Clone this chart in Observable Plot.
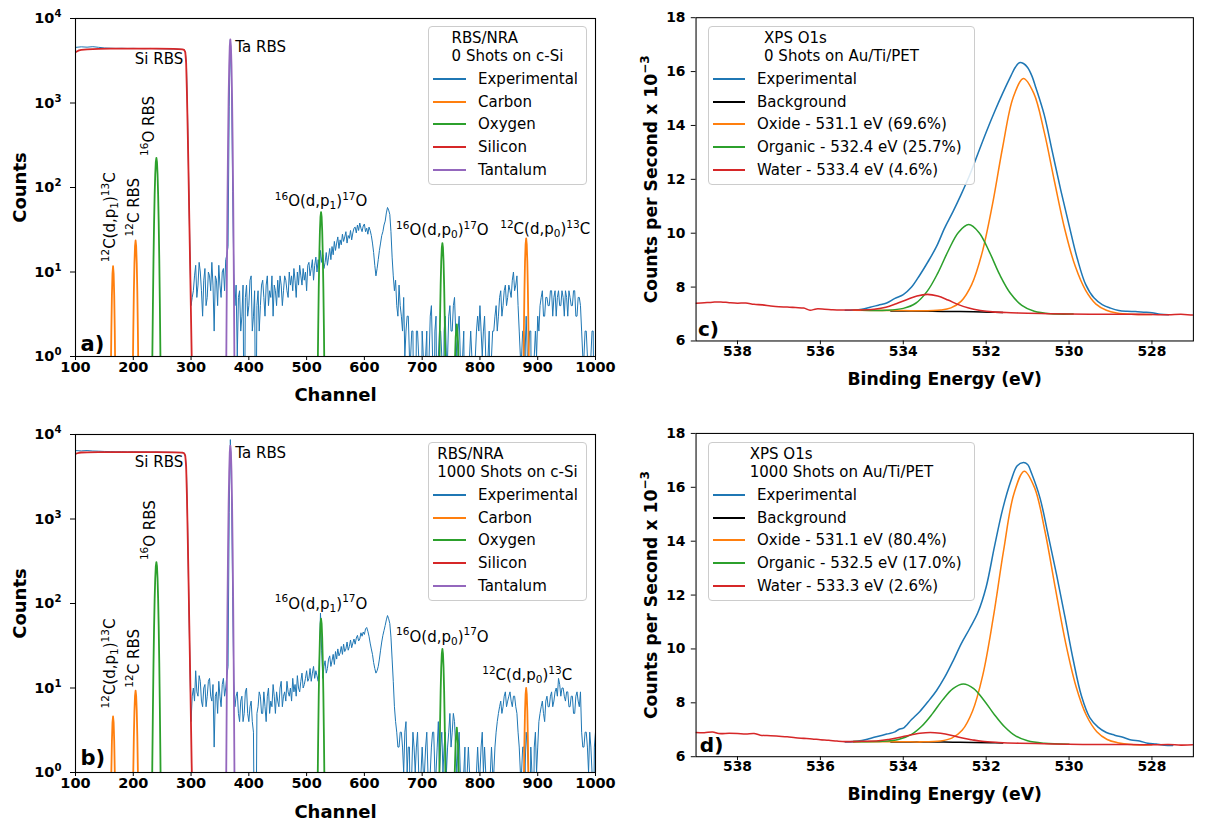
<!DOCTYPE html>
<html><head><meta charset="utf-8">
<script src="https://cdn.jsdelivr.net/npm/d3@7"></script>
<script src="https://cdn.jsdelivr.net/npm/@observablehq/plot@0.6"></script>
<style>
html,body{margin:0;padding:0;overflow:hidden;background:#fff}
#root{position:relative;width:1213px;height:822px;overflow:hidden;background:#fff;font-family:"DejaVu Sans"}
.panel{position:absolute}
.panel svg{overflow:visible}
.lg{position:absolute;box-sizing:border-box;border:1px solid #cccccc;border-radius:4px;background:rgba(255,255,255,0.85);font:15px "DejaVu Sans";color:#000}
</style></head><body><div id="root"></div>
<script>
// ---------------- tick labels ----------------
const channelTicks = [100,200,300,400,500,600,700,800,900,1000];
const countTicks = [1,10,100,1000,10000];
const countTickLabels = ["10⁰","10¹","10²","10³","10⁴"];
const energyTicks = [538,536,534,532,530,528];
const cpsTicks = [6,8,10,12,14,16,18];

// ---------------- RBS/NRA data (channel, counts) ----------------
// experimental counts after the Si edge are listed every 2 channels from channel 304
const noiseStart = 304, noiseStep = 2;
const expA_si = [[100,4550],[110,4620],[120,4580],[130,4640],[140,4560],[150,4480],[160,4450],[170,4430],[180,4440],[190,4420],[200,4430],[210,4410],[220,4400],[230,4420],[240,4390],[250,4380],[260,4370],[270,4350],[280,4330],[288,4280],[290,4050],[292,2900],[294,700],[296,110],[298,18],[300,4],[302,5]];
const expA_counts = [
 6,9,12,5,7,13,10,6,3,8,11,4,5,10,9,6,13,7,2,9,
 8,4,12,7,5,10,11,6,14,16,20,900,5600,2000,90,10,4,7,1,5,
 6,2,3,7,0,5,7,3,4,8,9,2,3,6,0,4,6,2,4,7,
 8,5,3,7,9,4,6,5,9,3,7,6,4,8,5,9,7,4,6,9,
 8,6,5,10,7,9,6,11,8,5,10,7,12,9,7,11,8,10,6,12,
 13,9,11,14,8,12,15,10,14,11,18,13,16,11,13,17,12,15,19,14,
 20,16,23,18,22,26,19,24,21,28,23,26,30,22,27,25,31,24,29,33,
 34,29,36,31,38,33,30,35,37,30,33,28,34,31,27,22,17,12,9,11,
 14,18,22,27,30,36,40,50,58,54,48,30,15,9,6,8,4,3,7,4,
 3,2,5,1,2,3,3,1,1,2,2,0,0,2,2,1,1,0,2,1,
 0,1,2,0,1,3,4,1,0,2,3,0,1,2,2,1,0,2,3,1,
 1,3,4,2,2,4,5,2,1,2,3,1,0,1,2,0,1,0,0,1,
 2,1,0,0,1,2,3,2,4,2,1,2,3,1,0,1,2,0,1,2,
 2,3,4,2,3,5,6,3,4,6,7,4,5,7,6,5,8,10,6,7,
 9,4,2,1,1,2,2,1,3,1,1,2,2,0,0,1,2,1,3,2,
 4,5,6,3,3,5,5,4,4,6,6,3,5,6,3,5,6,4,4,6,
 5,3,6,5,3,6,5,4,4,6,6,3,3,5,5,4,2,1,1,2,
 2,1,0,1,1,2,2,0,1];
const carbonA = [[150,0],[160,0.08],[161,0.48],[162,1.93],[163,5.3],[164,9.6],[165,11.7],[166,9.6],[167,5.3],[168,1.93],[169,0.48],[170,0.08],[180,0],
 [197,0],[198,0.07],[199,0.48],[200,1.94],[201,5.8],[202,12.6],[203,20.2],[204,23.6],[205,20.2],[206,12.6],[207,5.8],[208,1.94],[209,0.48],[210,0.07],[220,0],
 [860,0],[874,0.08],[875,0.46],[876,1.95],[877,5.95],[878,13.2],[879,21.3],[880,25],[881,21.3],[882,13.2],[883,5.95],[884,1.95],[885,0.46],[886,0.08],[900,0]];
const oxygenA = [[225,0],[232,0.19],[233,1.0],[234,4.2],[235,14.2],[236,38.4],[237,83],[238,144],[239,201],[240,224],[241,201],[242,144],[243,83],[244,38.4],[245,14.2],[246,4.2],[247,1.0],[248,0.19],[255,0],
 [510,0],[518,0.07],[519,0.47],[520,2.0],[521,6.4],[522,15.8],[523,30.3],[524,44.8],[525,51],[526,44.8],[527,30.3],[528,15.8],[529,6.4],[530,2.0],[531,0.47],[532,0.07],[540,0],
 [720,0],[729,0.24],[730,0.96],[731,3.0],[732,7.1],[733,13.4],[734,19.4],[735,22],[736,19.4],[737,13.4],[738,7.1],[739,3.0],[740,0.96],[741,0.24],[745,0.05],
 [754,0.2],[756,0.6],[758,1.7],[760,2.4],[762,1.5],[764,0.5],[766,0.1],[780,0]];
const siliconA = [[100,3990],[103,4100],[106,4200],[110,4260],[120,4320],[140,4370],[160,4390],[200,4400],[240,4390],[270,4360],[285,4320],[288,4250],[290,4000],[291.5,3000],[293,1200],[295,250],[297,42],[299,7],[301,1.1],[302,0.5],[304,0.1],[320,0]];
const tantalumA = [[350,0],[360,0.09],[361,0.98],[362,9.5],[363,67],[364,332],[365,1145],[366,2770],[367,4730],[368,5640],[369,4730],[370,2770],[371,1145],[372,332],[373,67],[374,9.5],[375,0.98],[376,0.09],[385,0]];

const expB_si = [[100,6450],[110,6400],[120,6460],[130,6380],[140,6350],[150,6300],[160,6280],[170,6250],[180,6260],[190,6230],[200,6250],[210,6220],[220,6230],[230,6200],[240,6210],[250,6180],[260,6170],[270,6150],[280,6130],[288,6050],[290,5700],[292,3800],[294,900],[296,120],[298,20],[300,4],[302,8]];
const expB_counts = [
 10,7,16,9,8,14,12,7,6,10,11,6,8,12,13,8,7,11,2,8,
 9,5,12,8,6,11,13,8,10,14,18,1200,8700,2500,120,12,6,8,9,5,
 4,7,8,4,5,9,10,5,4,6,7,4,3,0,0,5,6,9,8,5,
 5,9,6,4,8,10,5,7,6,11,8,5,9,7,6,10,12,6,8,9,
 7,12,9,8,10,7,13,9,11,8,14,10,9,12,15,10,11,13,16,12,
 13,17,12,15,18,13,16,14,12,19,77,28,13,18,21,15,17,22,24,18,
 21,25,19,27,22,29,24,26,31,25,33,27,29,35,28,31,37,30,34,38,
 33,39,42,36,38,45,41,46,43,50,52,47,41,34,29,25,20,17,15,16,
 18,22,28,35,42,48,55,64,72,66,58,40,22,12,6,4,3,2,2,3,
 3,2,1,3,4,1,2,2,0,1,3,2,1,2,3,1,0,1,2,1,
 1,2,3,1,0,1,2,3,3,1,1,2,4,1,2,3,1,2,3,1,
 2,3,5,2,3,5,4,2,1,2,3,1,0,0,1,2,0,1,2,1,
 0,1,1,0,0,1,2,1,1,2,3,1,2,1,1,0,0,1,2,1,
 1,2,3,4,5,6,7,5,6,8,9,6,7,8,9,7,6,8,8,6,
 5,3,2,1,1,2,2,1,3,2,1,0,2,1,0,2,3,1,2,4,
 5,6,7,5,4,7,8,6,6,8,9,6,7,9,10,8,13,11,8,10,
 10,8,7,9,9,6,6,8,8,5,5,8,9,7,6,9,3,2,2,3,
 3,2,1,3,2,1,0,2,3];
const carbonB = [[150,0],[160,0.07],[161,0.31],[162,1.0],[163,2.34],[164,3.9],[165,4.6],[166,3.9],[167,2.34],[168,1.0],[169,0.31],[170,0.07],[180,0],
 [197,0],[198,0.06],[199,0.29],[200,1.02],[201,2.68],[202,5.35],[203,8.1],[204,9.3],[205,8.1],[206,5.35],[207,2.68],[208,1.02],[209,0.29],[210,0.06],[220,0],
 [860,0],[874,0.03],[875,0.19],[876,0.78],[877,2.4],[878,5.3],[879,8.5],[880,10],[881,8.5],[882,5.3],[883,2.4],[884,0.78],[885,0.19],[886,0.03],[900,0]];
const oxygenB = [[225,0],[232,0.27],[233,1.4],[234,5.8],[235,19.6],[236,52.8],[237,115],[238,199],[239,277],[240,309],[241,277],[242,199],[243,115],[244,52.8],[245,19.6],[246,5.8],[247,1.4],[248,0.27],[255,0],
 [510,0],[518,0.1],[519,0.61],[520,2.55],[521,8.25],[522,20.5],[523,39.2],[524,58],[525,66],[526,58],[527,39.2],[528,20.5],[529,8.25],[530,2.55],[531,0.61],[532,0.1],[540,0],
 [720,0],[729,0.32],[730,1.27],[731,3.9],[732,9.4],[733,17.6],[734,25.6],[735,29],[736,25.6],[737,17.6],[738,9.4],[739,3.9],[740,1.27],[741,0.32],[745,0.05],
 [754,0.25],[756,0.8],[758,2.4],[760,3.4],[762,2.1],[764,0.7],[766,0.15],[780,0]];
const siliconB = [[100,5900],[103,6000],[106,6080],[110,6120],[120,6160],[140,6190],[160,6200],[200,6200],[240,6180],[270,6150],[285,6100],[288,6000],[290,5600],[291.5,4200],[293,1700],[295,330],[297,55],[299,9],[301,1.3],[302,0.6],[304,0.1],[320,0]];
const tantalumB = [[350,0],[360,0.09],[361,1.3],[362,12.6],[363,88],[364,435],[365,1500],[366,3630],[367,6200],[368,7400],[369,6200],[370,3630],[371,1500],[372,435],[373,88],[374,12.6],[375,1.3],[376,0.09],[385,0]];

// peak annotations: text and the peak it names (channel, counts)
const annotA = [
 {t:"Si RBS", ch:290, c:4400},
 {t:"Ta RBS", ch:368, c:5640},
 {t:"¹²C(d,p₁)¹³C", ch:165, c:11.7},
 {t:"¹²C RBS", ch:204, c:23.6},
 {t:"¹⁶O RBS", ch:240, c:224},
 {t:"¹⁶O(d,p₁)¹⁷O", ch:525, c:51},
 {t:"¹⁶O(d,p₀)¹⁷O", ch:735, c:22},
 {t:"¹²C(d,p₀)¹³C", ch:880, c:25}];
const annotB = [
 {t:"Si RBS", ch:290, c:6100},
 {t:"Ta RBS", ch:368, c:7400},
 {t:"¹²C(d,p₁)¹³C", ch:165, c:4.6},
 {t:"¹²C RBS", ch:204, c:9.3},
 {t:"¹⁶O RBS", ch:240, c:309},
 {t:"¹⁶O(d,p₁)¹⁷O", ch:525, c:66},
 {t:"¹⁶O(d,p₀)¹⁷O", ch:735, c:29},
 {t:"¹²C(d,p₀)¹³C", ch:880, c:10}];

// ---------------- XPS O1s data (binding energy eV, counts/s x 1e-3) ----------------
const expC = [[535.4,7.14],[535.2,7.15],[535.0,7.18],[534.8,7.25],[534.6,7.33],[534.4,7.41],[534.2,7.58],[534.0,7.72],[533.8,8.0],[533.6,8.45],[533.4,8.95],[533.2,9.5],[533.0,10.2],[532.8,10.8],[532.6,11.45],[532.4,12.15],[532.2,12.95],[532.0,13.75],[531.8,14.5],[531.6,15.2],[531.4,15.85],[531.3,16.15],[531.2,16.33],[531.1,16.3],[531.0,16.15],[530.9,15.85],[530.8,15.4],[530.6,14.4],[530.4,13.0],[530.2,11.6],[530.0,10.3],[529.8,9.05],[529.6,8.1],[529.4,7.6],[529.2,7.35],[529.0,7.22],[528.8,7.13],[528.6,7.1],[528.4,7.09],[528.2,7.07],[528.0,7.05],[527.8,6.99],[527.6,6.97]];
const bgC = [[534.3,7.115],[533.8,7.11],[533.3,7.1],[532.8,7.095],[532.3,7.085],[531.9,7.07],[531.6,7.06]];
const oxideC = [[535.2,7.14],[534.0,7.13],[533.6,7.12],[533.1,7.15],[532.85,7.23],[532.6,7.48],[532.35,8.09],[532.1,9.26],[531.85,11.05],[531.6,13.21],[531.35,15.03],[531.1,15.74],[530.85,15.19],[530.6,13.76],[530.35,11.91],[530.1,10.13],[529.85,8.77],[529.6,7.88],[529.35,7.37],[529.1,7.14],[528.85,7.04],[528.5,6.99],[528.0,6.98]];
const organicC = [[535.0,7.14],[534.4,7.14],[534.0,7.21],[533.7,7.40],[533.42,7.85],[533.17,8.51],[532.92,9.33],[532.67,10.03],[532.42,10.32],[532.17,10.02],[531.92,9.30],[531.67,8.45],[531.42,7.78],[531.14,7.32],[530.84,7.10],[530.44,7.01],[529.9,7.0]];
const waterC = [[539.0,7.40],[538.8,7.42],[538.6,7.44],[538.4,7.45],[538.2,7.42],[538.0,7.40],[537.8,7.41],[537.6,7.36],[537.4,7.34],[537.2,7.30],[537.0,7.27],[536.8,7.26],[536.6,7.24],[536.4,7.22],[536.25,7.14],[536.1,7.19],[535.9,7.18],[535.7,7.16],[535.5,7.15],[535.2,7.15],[535.0,7.15],[534.7,7.18],[534.42,7.25],[534.17,7.38],[533.92,7.53],[533.67,7.67],[533.42,7.73],[533.17,7.67],[532.92,7.52],[532.67,7.35],[532.42,7.22],[532.14,7.135],[531.84,7.08],[531.4,7.05],[531.0,7.03],[530.5,7.01],[530.0,7.0],[529.5,6.99],[529.0,6.99],[528.5,6.99],[528.0,6.98],[527.6,6.97],[527.3,6.99],[527.0,6.96],[526.8,6.97]];

const expD = [[535.4,6.55],[535.2,6.56],[535.0,6.6],[534.8,6.68],[534.6,6.76],[534.4,6.84],[534.2,6.92],[534.1,7.02],[534.0,7.06],[533.8,7.38],[533.6,7.68],[533.4,8.05],[533.2,8.45],[533.0,8.95],[532.8,9.55],[532.6,10.2],[532.4,10.75],[532.2,11.35],[532.0,12.3],[531.8,13.8],[531.6,15.2],[531.4,16.25],[531.25,16.8],[531.1,16.92],[531.0,16.85],[530.9,16.5],[530.7,15.6],[530.5,14.2],[530.3,12.75],[530.1,11.2],[529.9,9.6],[529.7,8.25],[529.5,7.45],[529.3,7.1],[529.1,6.9],[528.9,6.8],[528.7,6.72],[528.5,6.62],[528.3,6.58],[528.1,6.5],[527.9,6.47],[527.7,6.43],[527.5,6.42]];
const bgD = [[534.3,6.55],[533.8,6.548],[533.3,6.545],[532.8,6.54],[532.3,6.53],[531.9,6.52],[531.6,6.51]];
const oxideD = [[535.2,6.56],[534.0,6.555],[533.6,6.55],[533.1,6.585],[532.83,6.69],[532.58,6.98],[532.33,7.69],[532.08,9.04],[531.83,11.15],[531.58,13.65],[531.33,15.76],[531.08,16.6],[530.83,15.98],[530.58,14.36],[530.33,12.25],[530.08,10.21],[529.83,8.60],[529.58,7.53],[529.33,6.93],[529.08,6.64],[528.83,6.52],[528.5,6.45],[528.0,6.44]];
const organicD = [[535.2,6.56],[534.5,6.57],[534.1,6.65],[533.8,6.83],[533.55,7.14],[533.3,7.59],[533.05,8.11],[532.8,8.53],[532.55,8.70],[532.3,8.53],[532.05,8.09],[531.8,7.56],[531.55,7.10],[531.3,6.78],[531.0,6.59],[530.6,6.50],[530.0,6.46]];
const waterD = [[539.0,6.90],[538.8,6.89],[538.6,6.92],[538.45,6.86],[538.2,6.87],[538.0,6.86],[537.8,6.84],[537.6,6.86],[537.45,6.80],[537.2,6.78],[537.0,6.76],[536.8,6.74],[536.6,6.70],[536.4,6.68],[536.2,6.66],[536.0,6.63],[535.8,6.61],[535.6,6.58],[535.4,6.56],[535.0,6.57],[534.6,6.59],[534.35,6.64],[534.1,6.71],[533.85,6.80],[533.6,6.87],[533.35,6.90],[533.1,6.87],[532.85,6.80],[532.6,6.70],[532.35,6.63],[532.1,6.57],[531.7,6.53],[531.2,6.50],[530.6,6.48],[530.0,6.46],[529.5,6.45],[529.0,6.45],[528.5,6.45],[528.0,6.44],[527.6,6.45],[527.3,6.43],[527.0,6.44],[526.8,6.43]];

// ---------------- legend texts ----------------
const rbsEntries = ["Experimental","Carbon","Oxygen","Silicon","Tantalum"];
const xpsEntriesC = ["Experimental","Background","Oxide - 531.1 eV (69.6%)","Organic - 532.4 eV (25.7%)","Water - 533.4 eV (4.6%)"];
const xpsEntriesD = ["Experimental","Background","Oxide - 531.1 eV (80.4%)","Organic - 532.5 eV (17.0%)","Water - 533.3 eV (2.6%)"];
const titleA = ["RBS/NRA","0 Shots on c-Si"];
const titleB = ["RBS/NRA","1000 Shots on c-Si"];
const titleC = ["XPS O1s","0 Shots on Au/Ti/PET"];
const titleD = ["XPS O1s","1000 Shots on Au/Ti/PET"];

// ---------------- styling ----------------
const COL = {blue:"#1f77b4", orange:"#ff7f0e", green:"#2ca02c", red:"#d62728", purple:"#9467bd", black:"#000000"};
const rbsColors = [COL.blue, COL.orange, COL.green, COL.red, COL.purple];
const xpsColors = [COL.blue, COL.black, COL.orange, COL.green, COL.red];
const FLOOR = 0.05;
const yc = d => (d[1] > 0 ? d[1] : FLOOR);
const tickLabelMap = new Map(countTicks.map((t, i) => [t, countTickLabels[i]]));

function rbsSeries(si, counts) {
  return si.concat(counts.map((c, i) => [noiseStart + noiseStep * i, c]));
}

function annotMarks(annot, offsets) {
  return annot.map((a, i) => {
    const o = offsets[i];
    return Plot.text([a], {x: "ch", y: "c", text: "t", dx: o[0], dy: o[1], textAnchor: o[2], rotate: o[3],
      lineAnchor: "middle", fontSize: 15, fill: "black"});
  });
}

function rbsPlot(p) {
  return Plot.plot({
    width: 610, height: p.h, marginLeft: 75, marginRight: 15, marginTop: p.mt, marginBottom: p.mb,
    style: {fontFamily: "DejaVu Sans", fontSize: "15px", background: "transparent", color: "black", overflow: "visible"},
    x: {domain: [100, 1000]},
    y: {type: "log", domain: [1, 10000]},
    marks: [
      Plot.line(p.exp, {x: d => d[0], y: yc, stroke: COL.blue, strokeWidth: 1, clip: true}),
      Plot.line(p.carbon, {x: d => d[0], y: yc, stroke: COL.orange, strokeWidth: 1.8, clip: true}),
      Plot.line(p.oxygen, {x: d => d[0], y: yc, stroke: COL.green, strokeWidth: 1.8, clip: true}),
      Plot.line(p.silicon, {x: d => d[0], y: yc, stroke: COL.red, strokeWidth: 1.8, clip: true}),
      Plot.line(p.tantalum, {x: d => d[0], y: yc, stroke: COL.purple, strokeWidth: 1.8, clip: true}),
      Plot.frame({stroke: "black", strokeWidth: 1.1}),
      Plot.axisX({ticks: channelTicks, tickSize: 4, tickPadding: 1, fontSize: 14.5, fontWeight: "bold", label: null, tickFormat: d => String(d)}),
      Plot.axisY({ticks: countTicks, tickSize: 5, tickPadding: 9, fontSize: 14.5, fontWeight: "bold", label: null, tickFormat: d => tickLabelMap.get(d)}),
      ...annotMarks(p.annot, p.offsets),
      Plot.text(["Channel"], {frameAnchor: "bottom", dy: p.xlabDy, textAnchor: "middle", lineAnchor: "middle", fontSize: 18, fontWeight: "bold", text: d => d}),
      Plot.text(["Counts"], {frameAnchor: "left", dx: -55.5, rotate: -90, textAnchor: "middle", lineAnchor: "middle", fontSize: 18, fontWeight: "bold", text: d => d}),
      Plot.text([p.letter], {frameAnchor: "bottom-left", dx: p.letDx, dy: p.letDy, textAnchor: "start", lineAnchor: "middle", fontSize: 21, fontWeight: "bold", text: d => d})
    ]
  });
}

function xpsPlot(p) {
  const L = (data, color) => Plot.line(data, {x: d => d[0], y: d => d[1], stroke: color, strokeWidth: 1.6, curve: "catmull-rom", clip: true});
  return Plot.plot({
    width: 620, height: p.h, marginLeft: 79, marginRight: 21, marginTop: p.mt, marginBottom: p.mb,
    style: {fontFamily: "DejaVu Sans", fontSize: "15px", background: "transparent", color: "black", overflow: "visible"},
    x: {domain: [539, 527]},
    y: {domain: [6, 18]},
    marks: [
      L(p.exp, COL.blue), L(p.bg, COL.black), L(p.oxide, COL.orange), L(p.organic, COL.green), L(p.water, COL.red),
      Plot.frame({stroke: "black", strokeWidth: 1.1}),
      Plot.axisX({ticks: energyTicks, tickSize: 4, tickPadding: 1, fontSize: 14.5, fontWeight: "bold", label: null, tickFormat: d => String(d)}),
      Plot.axisY({ticks: cpsTicks, tickSize: 5, tickPadding: 6, fontSize: 14.5, fontWeight: "bold", label: null, tickFormat: d => String(d)}),
      Plot.text(["Binding Energy (eV)"], {frameAnchor: "bottom", dy: p.xlabDy, textAnchor: "middle", lineAnchor: "middle", fontSize: 18, fontWeight: "bold", text: d => d}),
      Plot.text(["Counts per Second x 10⁻³"], {frameAnchor: "left", dx: -47, rotate: -90, textAnchor: "middle", lineAnchor: "middle", fontSize: 18, fontWeight: "bold", text: d => d}),
      Plot.text([p.letter], {frameAnchor: "bottom-left", dx: p.letDx, dy: p.letDy, textAnchor: "start", lineAnchor: "middle", fontSize: 21, fontWeight: "bold", text: d => d})
    ]
  });
}

// render Unicode super/subscripts as raised/lowered smaller tspans (like mathtext)
const SUP = {"⁰":"0","¹":"1","²":"2","³":"3","⁴":"4","⁵":"5","⁶":"6","⁷":"7","⁸":"8","⁹":"9","⁻":"−"};
const SUB = {"₀":"0","₁":"1","₂":"2","₃":"3","₄":"4","₅":"5","₆":"6","₇":"7","₈":"8","₉":"9"};
function richify(svg) {
  svg.querySelectorAll("text").forEach(t => {
    if (t.querySelector("tspan")) return;
    const s = t.textContent;
    const chars = [...s];
    if (!chars.some(c => SUP[c] || SUB[c])) return;
    const fs = parseFloat(getComputedStyle(t).fontSize) || 15;
    const runs = [];
    for (const c of chars) {
      const kind = SUP[c] ? 1 : SUB[c] ? 2 : 0;
      const ch = SUP[c] || SUB[c] || c;
      if (runs.length && runs[runs.length - 1].kind === kind) runs[runs.length - 1].s += ch;
      else runs.push({kind, s: ch});
    }
    while (t.firstChild) t.removeChild(t.firstChild);
    let shift = 0;
    for (const r of runs) {
      const target = r.kind === 1 ? -0.42 * fs : r.kind === 2 ? 0.2 * fs : 0;
      const ts = document.createElementNS("http://www.w3.org/2000/svg", "tspan");
      if (target !== shift) ts.setAttribute("dy", (target - shift).toFixed(2));
      if (r.kind) ts.setAttribute("font-size", (0.7 * fs).toFixed(2));
      ts.textContent = r.s;
      t.appendChild(ts);
      shift = target;
    }
  });
}

function addLegend(root, L) {
  const box = document.createElement("div");
  box.className = "lg";
  Object.assign(box.style, {left: L.left + "px", top: L.top + "px", width: L.w + "px", height: L.h + "px"});
  const tb = document.createElement("div");
  tb.style.cssText = `position:absolute;left:0;width:100%;top:${L.titleTop - L.top - 1}px;text-align:center;line-height:17.5px`;
  const inner = document.createElement("span");
  inner.style.cssText = "display:inline-block;text-align:left;white-space:pre";
  inner.textContent = L.title.join("\n");
  tb.appendChild(inner);
  box.appendChild(tb);
  L.entries.forEach((name, i) => {
    const y = L.y0 + i * L.step - L.top - 1;
    const sw = document.createElement("div");
    sw.style.cssText = `position:absolute;left:${L.sx - L.left - 1}px;top:${y - 1}px;width:${L.sw}px;height:0;border-top:2px solid ${L.colors[i]}`;
    const tx = document.createElement("div");
    tx.style.cssText = `position:absolute;left:${L.tx - L.left - 1}px;top:${y - 9}px;line-height:18px;white-space:nowrap`;
    tx.textContent = name;
    box.appendChild(sw);
    box.appendChild(tx);
  });
  root.appendChild(box);
}

const root = document.getElementById("root");
function place(node, left, top) {
  const d = document.createElement("div");
  d.className = "panel";
  d.style.left = left + "px";
  d.style.top = top + "px";
  d.appendChild(node);
  root.appendChild(d);
  richify(node);
}

const offA = [[-2,11,"end",0],[5,8,"start",0],[-3,-4,"start",-90],[-1.5,-4,"start",-90],[-7,-2,"start",-90],[0,-11,"middle",0],[0,-13,"middle",0],[19,-9,"middle",0]];
const offB = [[-2,10,"end",0],[5,8,"start",0],[-3,-8,"start",-90],[-1,-3,"start",-90],[-6.5,-2,"start",-90],[0,-15,"middle",0],[0,-12,"middle",0],[1,-12.5,"middle",0]];

place(rbsPlot({exp: rbsSeries(expA_si, expA_counts), carbon: carbonA, oxygen: oxygenA, silicon: siliconA, tantalum: tantalumA,
  annot: annotA, offsets: offA, letter: "a)", h: 410, mt: 18, mb: 54, xlabDy: 39, letDx: 5, letDy: -12}), 0, 0);
place(rbsPlot({exp: rbsSeries(expB_si, expB_counts), carbon: carbonB, oxygen: oxygenB, silicon: siliconB, tantalum: tantalumB,
  annot: annotB, offsets: offB, letter: "b)", h: 412, mt: 24, mb: 50, xlabDy: 39.7, letDx: 5, letDy: -14}), 0, 410);
place(xpsPlot({exp: expC, bg: bgC, oxide: oxideC, organic: organicC, water: waterC, letter: "c)", h: 410, mt: 18, mb: 54, xlabDy: 40.7, letDx: 2, letDy: -12}), 620, 0);
place(xpsPlot({exp: expD, bg: bgD, oxide: oxideD, organic: organicD, water: waterD, letter: "d)", h: 412, mt: 24, mb: 50, xlabDy: 39.7, letDx: 4, letDy: -12}), 620, 410);

addLegend(root, {left: 428, top: 26, w: 159, h: 159, titleTop: 30, title: titleA, entries: rbsEntries, colors: rbsColors, y0: 79, step: 22.7, sx: 433, sw: 33, tx: 478});
addLegend(root, {left: 428, top: 442, w: 159, h: 159, titleTop: 446, title: titleB, entries: rbsEntries, colors: rbsColors, y0: 495, step: 22.7, sx: 433, sw: 33, tx: 478});
addLegend(root, {left: 708, top: 26, w: 267, h: 159, titleTop: 30, title: titleC, entries: xpsEntriesC, colors: xpsColors, y0: 79, step: 22.7, sx: 713, sw: 32, tx: 757});
addLegend(root, {left: 708, top: 442, w: 267, h: 159, titleTop: 446, title: titleD, entries: xpsEntriesD, colors: xpsColors, y0: 495, step: 22.7, sx: 713, sw: 32, tx: 757});
</script></body></html>
